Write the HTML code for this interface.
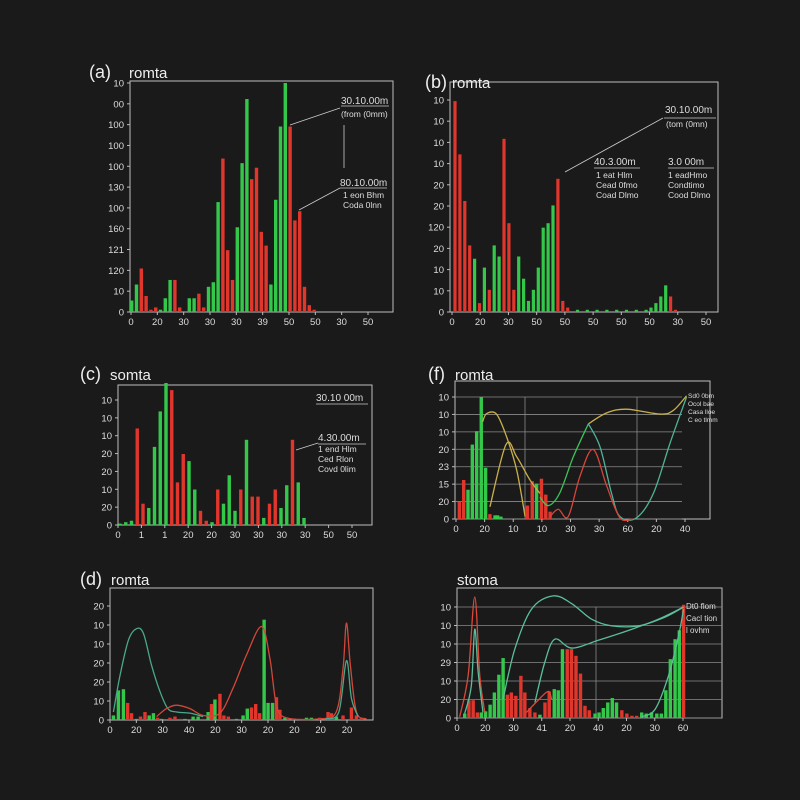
<!DOCTYPE html>
<html><head><meta charset="utf-8"><style>
html,body{margin:0;padding:0;background:#1b1a1a;}
svg{display:block;font-family:"Liberation Sans",sans-serif;}
</style></head><body>
<svg id="c" width="800" height="800" viewBox="0 0 800 800" xmlns="http://www.w3.org/2000/svg">
<rect width="800" height="800" fill="#1b1a1a"/>
</svg>
<script>
// ---------- DATA ----------
const aVals=[5,12,19,7,1,2,1,6,14,14,2,0,6,6,8,2,11,13,48,67,27,14,37,65,93,58,63,35,29,12,49,81,100,81,40,44,11,3,1];
const aCols="ggrrrrgggrrwggrrgggrrrgggrrrrggggrrrrrr";
const bVals=[95,71,50,30,24,4,20,10,30,25,78,40,10,25,15,5,10,20,38,40,48,60,5,2,0,1,0,1,0,1,0,1,0,1,0,1,0,1,0,1,2,4,7,12,7,1];
const bCols="rrrrgrgrggrrrgggggggg rrrgrgrgrgrgrgrgrgggggrr".replace(' ','r');
const cVals=[1,2,3,68,15,12,55,80,100,95,30,50,45,25,10,3,2,25,15,35,10,25,60,20,20,5,15,25,12,28,60,30,5];
const cCols="gggrrgggg rrggrrgrgggrgrrgrrgg ggr".replace(/ /g,'r');
const fBarX=[1.7,3.4,5.1,6.8,8.5,10.3,12,13.7,15.7,16.7,18,28.4,30.3,32,33.9,35.6,37.3];
const fBarV=[14,32,24,61,72,100,42,4,3,3,2,11,31,29,33,20,6];
const fBarC="rrgggggrgggrrgrrr";
const fCurves=[
 {c:"#c9b04a",p:[[10.8,79.6],[12.4,86.4],[16.3,85.9],[20.3,67],[24.2,40],[27.5,2]]},
 {c:"#c9b04a",p:[[13.7,10],[20,61],[24.2,51],[29.4,32],[33.3,21]]},
 {c:"#3cc45a",p:[[33.3,18],[36.6,11],[41,21],[46.4,51],[52.3,78]]},
 {c:"#c9b04a",p:[[52.3,78],[59.5,87],[67.3,90],[80.4,86],[85.6,89],[90.8,101]]},
 {c:"#4fb39a",p:[[52.3,78],[56.9,59],[61.4,21],[64.7,2],[71.2,1],[77.8,21],[84.3,62],[90.8,100]]},
 {c:"#d8443a",p:[[37.3,2],[40.5,8],[44.4,2],[49,35],[54.2,57],[59.5,27],[64.7,1],[69.9,0]]}
];
const dBarX=[1.3,3.2,5.1,6.7,8.2,10.1,11.6,13.3,14.9,16.5,18.1,19.6,22.8,24.7,26.6,28.5,31.6,33.5,35.4,37.3,38.6,39.9,41.8,43.3,45,48.1,50.6,52.2,53.8,55.4,56.9,58.6,60.1,61.8,63.3,64.6,66.5,69.6,72.2,74.7,76.6,79.7,82.9,84.2,86.1,88.6,91.8,93.7,95.6];
const dBarV=[4,26,27,15,6,1,3,7,4,6,2,1,2,3,1,1,3,3,1,7,14,18,23,4,3,1,4,10,11,14,6,88,15,15,20,9,2,1,1,2,2,2,7,6,3,4,11,4,2];
const dBarC="gggrrgrrggrgrrrgggrgrgrrrgggrrrgggrrgrrggrrrgrrrr";
const dCurves=[
 {c:"#4aa88a",p:[[1.3,7],[3.8,39],[7,70],[10,80],[12.7,76],[15.8,48],[19,25],[22,10],[25.3,7],[30.4,6],[35.4,3]]},
 {c:"#d2473a",p:[[17.7,3],[21.5,10],[25.3,13],[30.4,10],[35.4,4],[41.8,6],[46.8,28],[51.9,57],[57.6,82],[60.8,54],[63.3,13],[67,2],[79.7,1],[86,7],[88.6,45],[89.9,85],[91.4,48],[93.7,7],[97.5,1]]},
 {c:"#4aa88a",p:[[82,1],[87,7],[89.9,52],[91.8,19],[94.3,3]]}
];
const eBarX=[2.9,4.5,6.1,7.7,9.2,10.8,12.5,14.1,15.8,17.4,19,20.5,22.2,24.1,25.6,27.5,29.4,31.3,33.2,34.8,36.7,38.2,39.8,41.6,43.2,44.9,46.6,48.3,49.9,52.1,53.6,55.2,56.9,58.6,60.2,62.2,64.1,66,67.8,69.7,71.4,73.4,75.4,77.1,78.8,80.5,82.3,83.9,85.5];
const eBarV=[4,16,16,5,5,6,12,23,39,54,21,23,20,38,23,9,5,3,14,24,26,25,62,62,62,56,40,11,7,4,5,9,14,18,14,7,4,2,2,5,4,5,4,4,25,53,71,79,102];
const eBarC="grrrggggggrrrrrrrgrrgggrrrrrrggggggrrrrgggggggggr";
const eCurves=[
 {c:"#d94a3a",p:[[1,1],[4.2,38],[6.7,109],[8.6,38],[10.5,5]]},
 {c:"#5bbf9a",p:[[2.9,4],[5.4,29],[6.7,80],[8,41],[9.8,5]]},
 {c:"#5bbf9a",p:[[17.4,17],[21.8,62],[28.1,98],[36.3,110],[43.3,103],[50.8,89],[58.4,83],[68.5,83],[78.6,91],[85.5,100]]},
 {c:"#5bbf9a",p:[[29.4,14],[33.1,50],[36.9,71],[43.3,63],[53.3,70],[66,80],[76,89],[85.5,100]]},
 {c:"#d94a3a",p:[[26.2,5],[30.6,16],[34.4,24],[35.7,17]]},
 {c:"#5bbf9a",p:[[69.7,1],[74.8,8],[79.8,38],[83.6,74],[85.5,98]]}
];
const aYT=["10","00","100","100","100","130","100","160","121","120","10","0"];
const aXT=["0","20","30","30","30","39","50","50","30","50"];
const bYT=["10","10","10","10","20","20","120","20","10","10","0"];
const bXT=["0","20","30","50","50","50","50","50","30","50"];
const cYT=["10","10","10","20","20","10","20","0"];
const cXT=["0","1","1","20","20","30","30","30","30","50","50"];
const fYT=["10","10","10","20","23","15","20","0"];
const fXT=["0","20","10","10","30","30","60","20","40"];
const dYT=["20","10","10","20","20","10","0"];
const dXT=["0","20","30","40","20","30","20","20","20","20"];
const eYT=["10","10","10","29","10","20","0"];
const eXT=["0","20","30","41","20","40","20","30","60"];

// ---------- DRAW ----------
const svg=document.getElementById('c');
const NS="http://www.w3.org/2000/svg";
const GREEN="#34c84a",RED="#e0362c";
function mk(tag,attrs,parent){const e=document.createElementNS(NS,tag);for(const k in attrs)e.setAttribute(k,attrs[k]);(parent||svg).appendChild(e);return e;}
function txt(s,x,y,size,fill,anchor,parent){const t=mk('text',{x:x,y:y,'font-size':size,fill:fill,'text-anchor':anchor||'start'},parent);t.textContent=s;return t;}
function smooth(pts){let d="M"+pts[0][0]+","+pts[0][1];for(let i=0;i<pts.length-1;i++){const p0=pts[i-1]||pts[i],p1=pts[i],p2=pts[i+1],p3=pts[i+2]||p2;
 const c1=[p1[0]+(p2[0]-p0[0])/6,p1[1]+(p2[1]-p0[1])/6],c2=[p2[0]-(p3[0]-p1[0])/6,p2[1]-(p3[1]-p1[1])/6];
 d+=" C"+c1[0]+","+c1[1]+" "+c2[0]+","+c2[1]+" "+p2[0]+","+p2[1];}return d;}

function panel(cfg){
 const g=mk('g',{});
 
 
 const box=mk('rect',{x:cfg.bx,y:cfg.by,width:cfg.bw,height:cfg.bh,fill:'none',stroke:'#bdbdbd','stroke-width':1},g);
 
 
 const yS=v=>cfg.B-(cfg.B-cfg.T)*v/100;
 const xS=v=>cfg.L+(cfg.R-cfg.L)*v/100;
 // y ticks
 const n=cfg.yt.length;
 cfg.yt.forEach((s,i)=>{const y=cfg.yTop+(cfg.B-cfg.yTop)*i/(n-1);
  if(cfg.grid){const gl=mk('line',{x1:cfg.bx,x2:cfg.gridR,y1:y,y2:y,stroke:'#8a8a8a','stroke-width':0.8},g);}
  mk('line',{x1:cfg.bx-3,x2:cfg.bx,y1:y,y2:y,stroke:'#bbb'},g);
  const t=txt(s,cfg.bx-6,y+3.5,9.5,'#ddd','end',g);});
 (cfg.vgrid||[]).forEach(x=>{const l=mk('line',{x1:x,x2:x,y1:cfg.yTop,y2:cfg.B,stroke:'#8a8a8a','stroke-width':0.8},g);});
 const m=cfg.xt.length;
 cfg.xt.forEach((s,i)=>{const x=cfg.xt0+(cfg.xt1-cfg.xt0)*i/(m-1);
  mk('line',{x1:x,x2:x,y1:cfg.by+cfg.bh,y2:cfg.by+cfg.bh+3,stroke:'#bbb'},g);
  const t=txt(s,x,cfg.by+cfg.bh+13,9.5,'#ddd','middle',g);});
 // bars
 cfg.vals.forEach((v,i)=>{const cx=cfg.barX?xS(cfg.barX[i]):cfg.x0+i*cfg.step;const c=cfg.cols[i];
  const col=c==='g'?GREEN:c==='r'?RED:'#ddd';const y=yS(v);
  const r=mk('rect',{x:cx-cfg.bwid/2,y:y,width:cfg.bwid,height:Math.max(0,cfg.B-y),fill:col},g);
  
  });
 (cfg.curves||[]).forEach(cv=>{const p=mk('path',{d:smooth(cv.p.map(q=>[xS(q[0]),yS(q[1])])),fill:'none',stroke:cv.c,'stroke-width':1.3},g);
  
  });
 cfg.title.forEach(t=>{const e=txt(t[0],t[1],t[2],t[3],'#eee','start',g);});
 (cfg.notes||[]).forEach(t=>{const e=txt(t[0],t[1],t[2],t[3],'#ddd','start',g);});
 (cfg.lines||[]).forEach(l=>{const e=mk('line',{x1:l[0],y1:l[1],x2:l[2],y2:l[3],stroke:'#ccc','stroke-width':0.8},g);});
}

panel({name:'panel-a',bx:130,by:81,bw:263,bh:231,L:130,R:393,B:312,T:83,yTop:83,yt:aYT,xt:aXT,xt0:131,xt1:368,
 vals:aVals,cols:aCols,x0:131.7,step:4.8,bwid:3.4,
 title:[["(a)",89,78,18],["romta",129,78,15]],
 notes:[["30.10.00m",341,104,10],["(from (0mm)",341,117,8.5],["80.10.00m",340,186,10],["1 eon Bhm",343,198,8.5],["Coda 0lnn",343,208,8.5]],
 lines:[[290,125,340,108],[341,106,389,106],[344,125,344,168],[299,210,340,188],[340,188,387,188]]});
panel({name:'panel-b',bx:450,by:82,bw:268,bh:230,L:450,R:718,B:312,T:90,yTop:100,yt:bYT,xt:bXT,xt0:452,xt1:706,
 vals:bVals,cols:bCols,x0:455,step:4.9,bwid:3.2,
 title:[["(b)",425,88,18],["romta",452,88,15]],
 notes:[["30.10.00m",665,113,10],["(tom (0mn)",666,127,8.5],["40.3.00m",594,165,10],["3.0 00m",668,165,10],["1 eat Hlm",596,178,8.5],["Cead 0fmo",596,188,8.5],["Coad Dlmo",596,198,8.5],["1 eadHmo",668,178,8.5],["Condtimo",668,188,8.5],["Cood Dlmo",668,198,8.5]],
 lines:[[565,172,663,118],[664,118,716,118],[594,168,640,168],[668,168,714,168]]});
panel({name:'panel-c',bx:118,by:385,bw:254,bh:140,L:118,R:372,B:525,T:383,yTop:400,yt:cYT,xt:cXT,xt0:118,xt1:352,
 vals:cVals,cols:cCols,x0:120,step:5.75,bwid:3.4,
 title:[["(c)",80,380,18],["somta",110,380,15]],
 notes:[["30.10 00m",316,401,10],["4.30.00m",318,441,10],["1 end Hlm",318,452,8.5],["Ced Rlon",318,462,8.5],["Covd 0lim",318,472,8.5]],
 lines:[[316,404,368,404],[296,450,318,443],[318,444,366,444]]});
panel({name:'panel-f',bx:455,by:381,bw:255,bh:138,L:455,R:710,B:519,T:397,yTop:397,yt:fYT,xt:fXT,xt0:456,xt1:685,grid:true,gridR:682,vgrid:[525,637],
 vals:fBarV,cols:fBarC,barX:fBarX,bwid:3.4,curves:fCurves,
 title:[["(f)",428,380,18],["romta",455,380,15]],
 notes:[["Sd0 0bm",688,398,6.5],["Ocol bae",688,406,6.5],["Casa lloe",688,414,6.5],["C eo tlmm",688,422,6.5]]});
panel({name:'panel-d',bx:110,by:588,bw:263,bh:132,L:110,R:373,B:720,T:606,yTop:606,yt:dYT,xt:dXT,xt0:110,xt1:347,
 vals:dBarV,cols:dBarC,barX:dBarX,bwid:3.4,curves:dCurves,
 title:[["(d)",80,585,18],["romta",111,585,15]]});
panel({name:'panel-e',bx:457,by:588,bw:265,bh:130,L:457,R:722,B:718,T:607,yTop:607,yt:eYT,xt:eXT,xt0:457,xt1:683,grid:true,gridR:722,vgrid:[596],
 vals:eBarV,cols:eBarC,barX:eBarX,bwid:3.4,curves:eCurves,
 title:[["stoma",457,585,15]],
 notes:[["Dt0 flom",686,609,8],["Cacl tion",686,621,8],["l ovhm",686,633,8]]});
</script>
</body></html>
